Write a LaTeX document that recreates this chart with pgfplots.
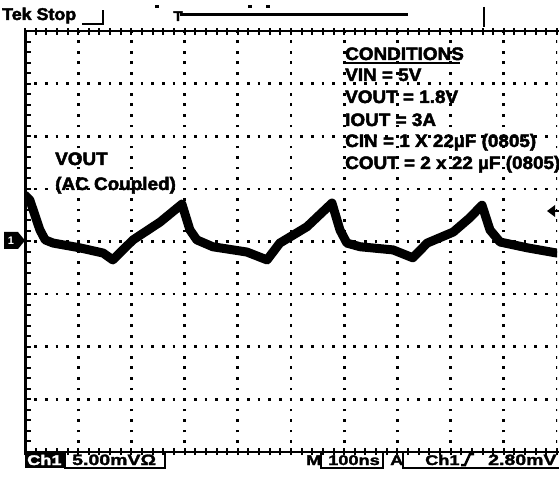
\documentclass[border=0pt]{standalone}
\usepackage{pgfplots}
\pgfplotsset{compat=1.18}
\usepackage{fontspec}
\setmainfont{Liberation Sans}
\newfontfamily\scopefont{Liberation Sans Bold}[FakeBold=2.5, FakeStretch=1.05]
\newfontfamily\readfont{Liberation Sans Bold}[FakeBold=2, FakeStretch=1.3]
\begin{document}
\begin{tikzpicture}[x=1pt,y=1pt]
\useasboundingbox (0,0) rectangle (559,479);
\fill[white] (0,0) rectangle (559,479);
\begin{axis}[at={(25pt,27pt)}, anchor=south west, scale only axis,
  width=532pt, height=421pt, xmin=0, xmax=10, ymin=-4, ymax=4,
  axis line style={draw=none}, ticks=none, clip=true]
% dotted graticule
\pgfplotsinvokeforeach{1,...,10}{
  \draw[black, line width=2.7pt, dash pattern=on 2.7pt off 7.82pt, dash phase=1.35pt]
    (axis cs:#1,-4) -- (axis cs:#1,4);}
\pgfplotsinvokeforeach{-3,...,3}{
  \draw[black, line width=2.7pt, dash pattern=on 2.7pt off 7.94pt, dash phase=1.35pt]
    (axis cs:0,#1) -- (axis cs:10,#1);}
% waveform (AC coupled VOUT ripple)
\addplot[black, line width=9pt, line join=round, line cap=round] coordinates {
(0.00,0.88) (0.09,0.79) (0.28,0.22) (0.38,0.03) (0.53,-0.03) (1.03,-0.12)
(1.47,-0.22) (1.65,-0.35) (2.03,0.03) (2.54,0.37) (2.95,0.71) (3.10,0.22)
(3.23,0.03) (3.53,-0.10) (4.17,-0.20) (4.55,-0.35) (4.79,-0.03) (5.30,0.28)
(5.77,0.73) (5.92,0.22) (6.05,-0.03) (6.30,-0.10) (6.92,-0.16) (7.29,-0.31)
(7.56,-0.03) (8.05,0.18) (8.36,0.45) (8.59,0.69) (8.74,0.22) (8.93,-0.01)
(9.44,-0.12) (10.00,-0.22)};
\end{axis}
% frame: top, bottom, left borders with minor ticks
\draw[black, line width=2.5pt] (25,448) -- (559,448);
\draw[black, line width=2.5pt] (25,27) -- (559,27);
\draw[black, line width=3pt] (25,27) -- (25,448);
\foreach \i in {0,...,50} {
  \draw[black, line width=2pt] ({25+\i*10.64},444) -- ({25+\i*10.64},451);
  \draw[black, line width=2pt] ({25+\i*10.64},24) -- ({25+\i*10.64},31);
}
\foreach \i in {0,...,40} {
  \draw[black, line width=2pt] (25,{27+\i*10.525}) -- (31,{27+\i*10.525});
}
% header
\node[anchor=base west, inner sep=0pt, font=\fontsize{17}{20}\scopefont] at (2,459) {Tek Stop};
\draw[black, line width=1.5pt] (82,455) -- (103,455) -- (103,469);
\node[anchor=base, inner sep=0pt, font=\fontsize{14}{16}\scopefont] at (178,458) {T};
\draw[black, line width=3pt] (180,464) -- (408,464);
\fill[black] (155,471) rectangle (159,474);
\fill[black] (248,471) rectangle (252,474);
\fill[black] (266,471) rectangle (270,474);
\draw[black, line width=2pt] (484,472) -- (484,452);
% channel 1 ground marker and trigger level arrow
\fill[black] (4,247) -- (18,247) -- (25,238.5) -- (18,230) -- (4,230) -- cycle;
\node[inner sep=0pt, text=white, font=\fontsize{11}{12}\selectfont\bfseries] at (11,238.5) {1};
\fill[black] (547,268) -- (555,274) -- (555,262) -- cycle;
\draw[black, line width=2.5pt] (553,268) -- (559,268);
% annotations
\begin{scope}[every node/.style={anchor=base west, inner sep=0pt, font=\fontsize{18}{20}\scopefont}]
\node at (345,419) {CONDITIONS};
\draw[black, line width=1.5pt] (345,416) -- (460,416);
\node at (345,398) {VIN = 5V};
\node at (345,376) {VOUT = 1.8V};
\node at (345,353) {IOUT = 3A};
\node at (345,332) {CIN = 1 X 22µF (0805)};
\node at (345,310) {COUT = 2 x 22 µF (0805)};
\node at (55,314) {VOUT};
\node at (55,289) {(AC Coupled)};
\end{scope}
% bottom readout
\begin{scope}[every node/.style={anchor=base west, inner sep=0pt, font=\fontsize{14}{15}\readfont}]
\fill[black] (25,11) rectangle (65,27);
\node[text=white] at (27,14) {Ch1};
\draw[black, line width=1.5pt] (65,27) -- (65,11) -- (165,11) -- (165,27);
\node[font=\fontsize{15}{15}\readfont] at (72,14) {5.00mVΩ};
\node at (306,14) {M};
\draw[black, line width=1.5pt] (321,27) -- (321,11) -- (383,11) -- (383,27);
\node at (328,14) {100ns};
\node at (390,14) {A};
\draw[black, line width=1.5pt] (403,27) -- (403,11) -- (570,11);
\node at (425,14) {Ch1};
\draw[black, line width=2.5pt] (461,14) -- (465,14) -- (470,25) -- (474,25);
\node[font=\fontsize{15}{15}\readfont] at (488,14) {2.80mV};
\end{scope}
\end{tikzpicture}
\end{document}
